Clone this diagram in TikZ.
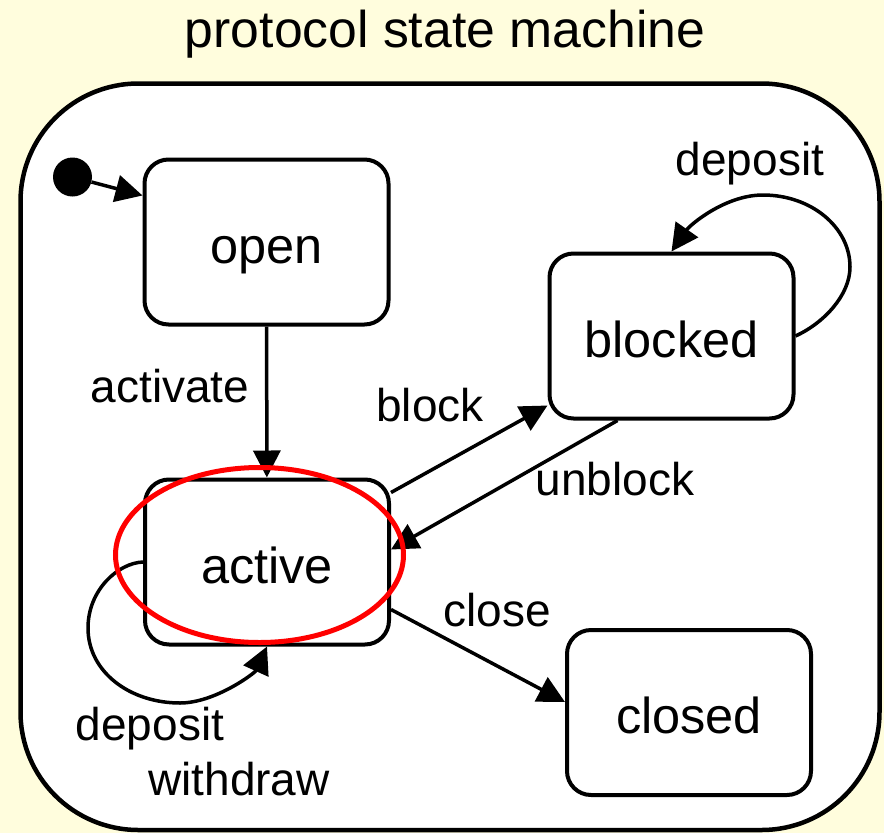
\documentclass[tikz,border=0pt]{standalone}
\usepackage{fontspec}
\setmainfont{Liberation Sans}
\usetikzlibrary{arrows.meta,calc,shapes.geometric}
\definecolor{bgyellow}{RGB}{255,253,221}
\tikzset{
  statebox/.style={draw, line width=4pt, rounded corners=24pt, minimum width=244pt,
    minimum height=165pt, text height=52pt, text depth=10pt, inner sep=0pt,
    font=\fontsize{50.5}{60}\selectfont},
  trans/.style={line width=3.5pt, -{Triangle[length=27pt,width=27pt]}},
  lbl/.style={anchor=base, inner sep=0pt, font=\fontsize{46}{55}\selectfont},
}
\begin{document}
\begin{tikzpicture}[x=1pt,y=-1pt]
  \fill[bgyellow] (0,0) rectangle (884,833);
  \useasboundingbox (0,0) rectangle (884,833);
  \node[anchor=base, inner sep=0pt, font=\fontsize{51.7}{60}\selectfont] (title) at (445,47) {protocol state machine};
  \draw[line width=4.5pt, fill=white, rounded corners=118pt] (20.5,83.5) rectangle (879.5,830);

  \node[statebox] (open) at (266.5,242) {open};
  \node[statebox] (blocked) at (671.5,336) {blocked};
  \node[statebox] (active) at (267,562) {active};
  \node[statebox] (closed) at (689,712.5) {closed};
  \node[circle, fill, inner sep=0pt, minimum size=39pt] (init) at (72.5,177) {};

  \draw[trans] (init) -- ($(open.north west)+(0,38)$);
  \draw[trans] (open) -- (active);
  \draw[trans] ($(active.north east)+(0,15)$) -- ($(blocked.south west)+(0,-15)$);
  \draw[trans] ($(blocked.south west)+(70,0)$) -- ($(active.north east)+(0,72)$);
  \draw[trans] ($(active.south east)+(0,-37)$) -- ($(closed.north west)+(0,74)$);
  \draw[trans] (blocked.east) .. controls (824,323) and (850,295) .. (850,267)
     .. controls (850,227) and (811,195) .. (763,195)
     .. controls (725,195) and (690,225) .. (blocked.north);
  \draw[trans] (active.west) .. controls (118,563) and (88,590) .. (88,628)
     .. controls (88,672) and (130,703) .. (180,703)
     .. controls (215,703) and (255,673) .. (active.south);

  \node[lbl] (lactivate) at (170,402) {activate};
  \node[lbl] (lblock) at (430,421) {block};
  \node[lbl] (lunblock) at (615,495) {unblock};
  \node[lbl] (lclose) at (497,626) {close};
  \node[lbl] (ldeposit1) at (750,175) {deposit};
  \node[lbl] (ldeposit2) at (150,740) {deposit};
  \node[lbl] (lwithdraw) at (239,795) {withdraw};

  \node[ellipse, draw=red, line width=5pt, inner sep=0pt, minimum width=288pt, minimum height=175pt] (highlight) at (259.5,555) {};
\end{tikzpicture}
\end{document}
